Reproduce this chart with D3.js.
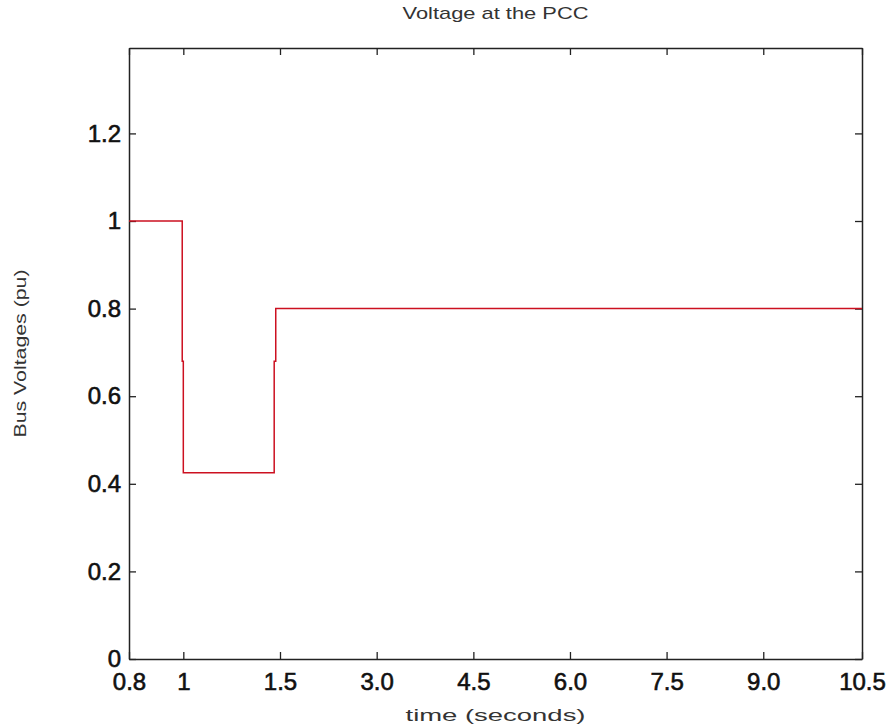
<!DOCTYPE html>
<html>
<head>
<meta charset="utf-8">
<script src="https://cdn.jsdelivr.net/npm/d3@7"></script>
<style>
  html, body { margin: 0; padding: 0; background: #fff; }
  svg { display: block; }
  .tick text { font-family: "Liberation Sans", Arial, sans-serif; font-size: 24px; fill: #111; stroke: #111; stroke-width: 0.6px; }
</style>
</head>
<body>
<svg id="chart" width="890" height="727"></svg>
<script>
// ---- data ----
const title = "Voltage at the PCC";
const xLabel = "time (seconds)";
const yLabel = "Bus Voltages (pu)";
const xTickValues = [0.8, 1, 1.5, 3.0, 4.5, 6.0, 7.5, 9.0, 10.5];
const xTickLabels = ["0.8", "1", "1.5", "3.0", "4.5", "6.0", "7.5", "9.0", "10.5"];
const yTickValues = [0, 0.2, 0.4, 0.6, 0.8, 1.0, 1.2];
const yTickLabels = ["0", "0.2", "0.4", "0.6", "0.8", "1", "1.2"];
const time = [0.8, 0.996, 0.996, 1.0, 1.0, 1.47, 1.47, 1.478, 1.478, 10.5];
const voltage = [1.0, 1.0, 0.68, 0.68, 0.425, 0.425, 0.68, 0.68, 0.8, 0.8];

// ---- layout ----
const pLeft = 129, pRight = 862, pTop = 48, pBottom = 659;
// relative position of each x tick along the (non-uniform) axis
const xTickFrac = [0, 0.0741, 0.2060, 0.3379, 0.4698, 0.6016, 0.7334, 0.8653, 1];

const svg = d3.select("#chart");

const x = d3.scaleLinear()
  .domain(xTickValues)
  .range(xTickFrac.map(f => pLeft + f * (pRight - pLeft)));
const y = d3.scaleLinear().domain([0, 1.395]).range([pBottom, pTop]);

const axisColor = "#222";
const tickLen = 7;

function styleAxis(g) {
  g.select(".domain").attr("stroke", axisColor).attr("stroke-width", 1.5);
  g.selectAll(".tick line").attr("stroke", axisColor).attr("stroke-width", 1.3);
}

// bottom axis
svg.append("g")
  .attr("transform", `translate(0,${pBottom})`)
  .call(d3.axisBottom(x).tickValues(xTickValues)
    .tickFormat((d, i) => xTickLabels[i])
    .tickSizeInner(-tickLen).tickSizeOuter(0).tickPadding(14))
  .call(styleAxis)
  .call(g => g.selectAll(".tick text").attr("dy", "0.71em"));

// top axis
svg.append("g")
  .attr("transform", `translate(0,${pTop})`)
  .call(d3.axisTop(x).tickValues(xTickValues).tickFormat("")
    .tickSizeInner(-tickLen).tickSizeOuter(0))
  .call(styleAxis);

// left axis
svg.append("g")
  .attr("transform", `translate(${pLeft},0)`)
  .call(d3.axisLeft(y).tickValues(yTickValues)
    .tickFormat((d, i) => yTickLabels[i])
    .tickSizeInner(-tickLen).tickSizeOuter(0).tickPadding(8))
  .call(styleAxis);

// right axis
svg.append("g")
  .attr("transform", `translate(${pRight},0)`)
  .call(d3.axisRight(y).tickValues(yTickValues).tickFormat("")
    .tickSizeInner(-tickLen).tickSizeOuter(0))
  .call(styleAxis);

// data line
const pts = time.map((t, i) => [t, voltage[i]]);
svg.append("path")
  .datum(pts)
  .attr("fill", "none")
  .attr("stroke", "#cc1020")
  .attr("stroke-width", 1.5)
  .attr("d", d3.line().x(d => x(d[0])).y(d => y(d[1])));

// title and labels
const labelFont = "'Liberation Sans', Arial, sans-serif";
svg.append("text")
  .attr("x", (pLeft + pRight) / 2).attr("y", 19)
  .attr("text-anchor", "middle")
  .attr("font-family", labelFont).attr("font-size", 17)
  .attr("fill", "#333")
  .attr("textLength", 186).attr("lengthAdjust", "spacingAndGlyphs")
  .text(title);

svg.append("text")
  .attr("x", (pLeft + pRight) / 2).attr("y", 721)
  .attr("text-anchor", "middle")
  .attr("font-family", labelFont).attr("font-size", 17)
  .attr("fill", "#333")
  .attr("textLength", 180).attr("lengthAdjust", "spacingAndGlyphs")
  .text(xLabel);

svg.append("text")
  .attr("transform", `translate(26,${(pTop + pBottom) / 2}) rotate(-90)`)
  .attr("text-anchor", "middle")
  .attr("font-family", labelFont).attr("font-size", 17)
  .attr("fill", "#333")
  .attr("textLength", 168).attr("lengthAdjust", "spacingAndGlyphs")
  .text(yLabel);
</script>
</body>
</html>
